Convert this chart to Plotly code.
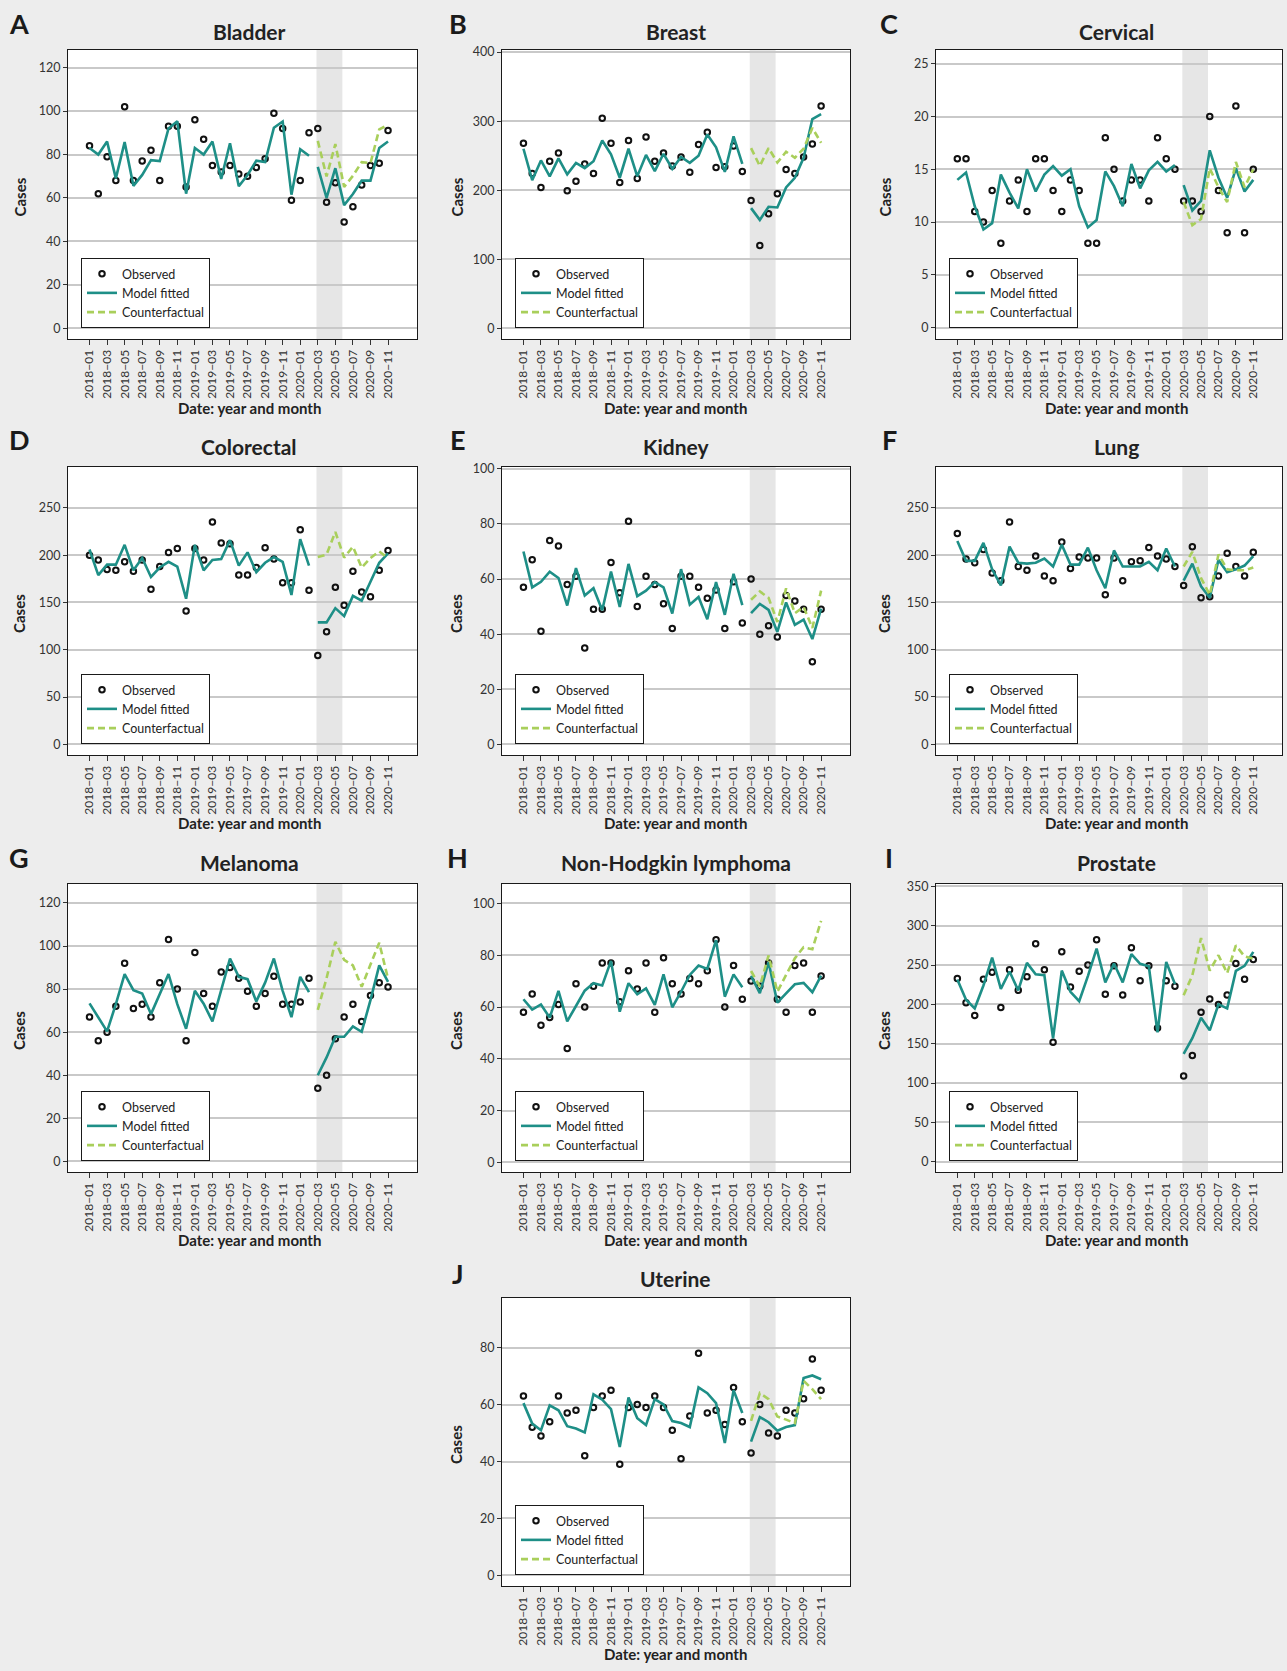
import plotly.graph_objects as go

# ---------------- data ----------------
tick_labels = ["2018\u221201", "2018\u221203", "2018\u221205", "2018\u221207", "2018\u221209", "2018\u221211",
               "2019\u221201", "2019\u221203", "2019\u221205", "2019\u221207", "2019\u221209", "2019\u221211",
               "2020\u221201", "2020\u221203", "2020\u221205", "2020\u221207", "2020\u221209", "2020\u221211"]
n_months = 35          # 2018-01 .. 2020-11
n_pre = 26             # 2018-01 .. 2020-02

bladder_obs = [84, 62, 79, 68, 102, 68, 77, 82, 68, 93, 93, 65, 96, 87, 75, 72, 75, 71, 70, 74, 78, 99, 92, 59, 68, 90,
               92, 58, 67, 49, 56, 66, 75, 76, 91]
bladder_fit = [83, 80, 86, 69, 85.7, 65.6, 70.6, 77.4, 77, 92, 95.3, 62, 83, 80, 86, 68.8, 85.2, 65.4, 70.6, 77.2, 76.5,
               92.3, 95.2, 61.5, 82.4, 79.4,
               74.3, 60, 73.7, 56.7, 61.8, 68, 68, 83, 86]
bladder_cf = [86.3, 69.9, 84.8, 65.1, 70.2, 76.5, 76, 91.6, 93.6]

breast_obs = [268, 224, 204, 242, 254, 199, 213, 238, 224, 304, 268, 211, 272, 217, 277, 242, 254, 235, 248, 226, 266,
              284, 233, 234, 264, 227, 185, 120, 166, 195, 230, 224, 248, 267, 322]
breast_fit = [260, 214.5, 243, 220, 246, 223, 239.6, 232, 242, 272, 252, 218, 260, 220, 251, 227.5, 252.7, 231, 248,
              239.6, 250, 280.7, 262, 226.5, 278, 238,
              174, 157, 176, 175, 204, 218, 247, 303, 310]
breast_cf = [261, 235, 261, 240, 255.6, 247, 260, 290, 268.6]

cervical_obs = [16, 16, 11, 10, 13, 8, 12, 14, 11, 16, 16, 13, 11, 14, 13, 8, 8, 18, 15, 12, 14, 14, 12, 18, 16, 15,
                12, 12, 11, 20, 13, 9, 21, 9, 15]
cervical_fit = [14, 14.7, 11.5, 9.3, 9.9, 14.5, 12.8, 11.3, 15, 12.9, 14.5, 15.3, 14.4, 15, 11.5, 9.5, 10.2, 14.8, 13.4,
                11.5, 15.5, 13.2, 14.9, 15.7, 14.8, 15.4,
                13.5, 11.1, 12, 16.8, 14.2, 12.3, 15.1, 12.9, 14]
cervical_cf = [11.9, 9.7, 10.3, 15.1, 13.3, 11.9, 15.7, 13.3, 15]

colorectal_obs = [200, 195, 185, 184, 193, 183, 195, 164, 188, 203, 207, 141, 207, 195, 235, 213, 212, 179, 179, 187,
                  208, 196, 171, 171, 227, 163, 94, 119, 166, 147, 183, 161, 156, 184, 205]
colorectal_fit = [206, 179, 190, 190, 211, 184, 197, 177, 187, 193, 188, 154, 211, 184, 195, 196, 216, 189, 203, 182,
                  192, 198, 193, 158, 217, 189,
                  129, 129, 144, 135.6, 157, 152, 172, 192, 202]
colorectal_cf = [198, 200.7, 224.6, 197.5, 209, 187, 197, 204, 197]

kidney_obs = [57, 67, 41, 74, 72, 58, 61, 35, 49, 49, 66, 55, 81, 50, 61, 58, 51, 42, 61, 61, 57, 53, 56, 42, 59, 44,
              60, 40, 43, 39, 54, 52, 49, 30, 49]
kidney_fit = [70, 57, 59, 62.7, 60.4, 50.4, 64, 54, 56.7, 48.7, 62.7, 49.9, 65.5, 53.8, 55.8, 58.9, 57, 47.5, 63.6, 50.7,
              53.5, 45.4, 58.9, 47, 61.9, 50.5,
              47.6, 51, 48.8, 40.8, 51.5, 43.4, 45.3, 38.2, 49.3]
kidney_cf = [52.5, 55.5, 53.2, 44.4, 56.6, 47.6, 49.9, 42.2, 55.8]

lung_obs = [223, 196, 192, 206, 181, 173, 235, 188, 184, 199, 178, 173, 214, 186, 198, 197, 197, 158, 197, 173, 193,
            194, 208, 199, 196, 188, 168, 209, 155, 156, 178, 202, 188, 178, 203]
lung_fit = [215, 194, 194, 213, 185, 168, 209, 192, 191, 192, 196.5, 188, 211, 190, 190, 208, 184, 165, 205, 188, 188,
            188, 193, 184, 207, 188,
            173, 191, 167, 155, 195, 182, 185, 189, 199]
lung_cf = [188, 203.5, 175.7, 158, 200.7, 185, 184, 184, 187]

melanoma_obs = [67, 56, 60, 72, 92, 71, 73, 67, 83, 103, 80, 56, 97, 78, 72, 88, 90, 85, 79, 72, 78, 86, 73, 73, 74, 85,
                34, 40, 57, 67, 73, 65, 77, 83, 81]
melanoma_fit = [73.4, 67.2, 60.4, 73, 87, 79.5, 78, 68.4, 78, 87, 73, 61.6, 79.2, 73.2, 65, 79.8, 94.2, 85.7, 84.6, 74.3,
                83, 94.2, 79.2, 67, 85.7, 78.6,
                40, 48.3, 57.9, 57.9, 62.7, 60.2, 74.9, 91, 83.4]
melanoma_cf = [70.4, 85.1, 102, 93.6, 91, 81.1, 91.4, 101.5, 84.8]

nhl_obs = [58, 65, 53, 56, 61, 44, 69, 60, 68, 77, 77, 62, 74, 67, 77, 58, 79, 69, 65, 71, 69, 74, 86, 60, 76, 63,
           70, 68, 77, 63, 58, 76, 77, 58, 72]
nhl_fit = [63, 59, 61, 55.9, 66.2, 54.5, 60.4, 66.3, 69.2, 68.3, 77.8, 58.2, 69.2, 64.9, 67.2, 60.8, 72.6, 59.9, 65.9,
           72.4, 76, 74.7, 85.8, 64, 72.6, 67.6,
           72, 65.4, 77.3, 61.7, 65.3, 68.8, 69.3, 65.7, 72.1]
nhl_cf = [73.9, 68, 79.9, 65.9, 72.4, 78.8, 83.1, 82.3, 93.3]

prostate_obs = [233, 202, 186, 232, 241, 196, 244, 218, 235, 277, 244, 152, 267, 222, 242, 250, 282, 213, 249, 212, 272,
                230, 249, 170, 230, 223, 109, 135, 190, 207, 200, 212, 252, 232, 257]
prostate_fit = [231.6, 206, 195, 224, 259.5, 219.8, 241.8, 217.7, 252.7, 238.4, 237, 156.8, 243, 216, 204, 236, 271, 228,
                252, 228, 264, 251.5, 248.5, 164.4, 254, 226,
                137, 157, 183, 167, 200, 195, 242.6, 249, 266.7]
prostate_cf = [211.7, 237, 284.4, 243, 262.5, 239.6, 275, 261, 258]

uterine_obs = [63, 52, 49, 54, 63, 57, 58, 42, 59, 63, 65, 39, 59, 60, 59, 63, 59, 51, 41, 56, 78, 57, 58, 53, 66, 54,
               43, 60, 50, 49, 58, 57, 62, 76, 65]
uterine_fit = [60.5, 53.3, 51, 59.7, 58, 52.4, 51.6, 50.2, 63.6, 61.7, 58.4, 45.1, 62.5, 55.2, 52.8, 61.9, 60, 54.2, 53.5,
               52.1, 66, 64, 60.5, 46.5, 65, 57,
               47, 55.6, 53.8, 50.8, 52.1, 52.8, 69.3, 70.2, 68.9]
uterine_cf = [54.3, 64, 61.9, 55.8, 54.7, 53.5, 68.3, 65.4, 61.9]

# ---------------- layout constants ----------------
W, H = 1287, 1671
FONT = "Lato, 'Source Sans Pro', 'Noto Sans', sans-serif"
BG = "#ededed"
TEAL = "#1e8f87"
LIME = "#a9cf5b"

COLS = [(68, 417), (502, 850), (936, 1282)]
ROWS = [(50, 339), (467, 755), (884, 1172), (1298, 1586)]
TITLE_X = [249, 675.5, 1116]
TITLE_Y = [32, 446, 862, 1278.5]
XTITLE_Y = [408, 822.5, 1240, 1654]
CASES_X = [19, 456, 884]
LETTER_X = [19, 458, 889]
LETTER_Y = [23, 440, 857, 1273]

panels = [
    ("A", "Bladder", bladder_obs, bladder_fit, bladder_cf, (-4.9, 128.1), 20, 0, 0),
    ("B", "Breast", breast_obs, breast_fit, breast_cf, (-15.5, 403), 100, 0, 1),
    ("C", "Cervical", cervical_obs, cervical_fit, cervical_cf, (-1.07, 26.3), 5, 0, 2),
    ("D", "Colorectal", colorectal_obs, colorectal_fit, colorectal_cf, (-11.3, 293.3), 50, 1, 0),
    ("E", "Kidney", kidney_obs, kidney_fit, kidney_cf, (-3.9, 100.7), 20, 1, 1),
    ("F", "Lung", lung_obs, lung_fit, lung_cf, (-11.5, 293.3), 50, 1, 2),
    ("G", "Melanoma", melanoma_obs, melanoma_fit, melanoma_cf, (-4.9, 128.8), 20, 2, 0),
    ("H", "Non-Hodgkin lymphoma", nhl_obs, nhl_fit, nhl_cf, (-3.7, 107.5), 20, 2, 1),
    ("I", "Prostate", prostate_obs, prostate_fit, prostate_cf, (-13, 353), 50, 2, 2),
    ("J", "Uterine", uterine_obs, uterine_fit, uterine_cf, (-3.7, 97.4), 20, 3, 1),
]


def px_x(px):
    return px / W


def px_y(py):
    return 1 - py / H


fig = go.Figure()
annotations = []
shapes = []
layout = dict(
    width=W, height=H, autosize=False,
    margin=dict(l=0, r=0, t=0, b=0, pad=0, autoexpand=False),
    paper_bgcolor=BG, plot_bgcolor="white",
    font=dict(family=FONT, color="#222"),
    showlegend=True,
)

months = list(range(n_months))
tick_pos = months[::2]

for k, (letter, title, obs, fit, cf, yr, dt, r, c) in enumerate(panels):
    idx = k + 1
    xa = "x" if idx == 1 else f"x{idx}"
    ya = "y" if idx == 1 else f"y{idx}"
    lg = "legend" if idx == 1 else f"legend{idx}"
    x0p, x1p = COLS[c]
    y0p, y1p = ROWS[r]

    fit_x = months[:n_pre] + [None] + months[n_pre:]
    fit_y = fit[:n_pre] + [None] + fit[n_pre:]

    fig.add_trace(go.Scatter(
        x=months, y=obs, mode="markers", name="Observed",
        marker=dict(symbol="circle-open", size=5.5, color="#111", line=dict(width=2, color="#111")),
        xaxis=xa, yaxis=ya, legend=lg, showlegend=True))
    fig.add_trace(go.Scatter(
        x=fit_x, y=fit_y, mode="lines", name="Model fitted", connectgaps=False,
        line=dict(color=TEAL, width=2.6),
        xaxis=xa, yaxis=ya, legend=lg, showlegend=True))
    fig.add_trace(go.Scatter(
        x=months[n_pre:], y=cf, mode="lines", name="Counterfactual",
        line=dict(color=LIME, width=2.6, dash="7px,4px"),
        xaxis=xa, yaxis=ya, legend=lg, showlegend=True))

    axkey_x = "xaxis" if idx == 1 else f"xaxis{idx}"
    axkey_y = "yaxis" if idx == 1 else f"yaxis{idx}"
    layout[axkey_x] = dict(
        domain=[px_x(x0p), px_x(x1p)], anchor=ya, range=[-2.45, 37.3], automargin=False,
        tickmode="array", tickvals=tick_pos, ticktext=tick_labels, tickangle=-90,
        ticks="outside", ticklen=5, tickwidth=1, tickcolor="#333",
        tickfont=dict(size=12, color="#333", family=FONT),
        showgrid=False, zeroline=False,
        showline=True, linecolor="#1a1a1a", linewidth=1.2, mirror=True,
    )
    yticks = [v for v in range(0, int(yr[1]) + 1, dt)]
    layout[axkey_y] = dict(
        domain=[px_y(y1p), px_y(y0p)], anchor=xa, range=list(yr), automargin=False,
        tickmode="array", tickvals=yticks,
        ticks="outside", ticklen=4, tickwidth=1, tickcolor="#333",
        tickfont=dict(size=12.5, color="#333", family=FONT),
        showgrid=True, gridcolor="#c9c9c9", gridwidth=1.5, zeroline=False,
        showline=True, linecolor="#1a1a1a", linewidth=1.2, mirror=True,
    )
    layout[lg] = dict(
        x=px_x(x0p + 13), y=px_y(y1p - 11), xanchor="left", yanchor="bottom",
        bgcolor="white", bordercolor="#1a1a1a", borderwidth=1,
        font=dict(size=12.5, color="#222", family=FONT),
        tracegroupgap=0, itemwidth=30,
    )

    # lockdown shading
    shapes.append(dict(type="rect", xref=xa, yref=f"{ya} domain", x0=25.85, x1=28.8, y0=0, y1=1,
                       fillcolor="#e6e6e6", line=dict(width=0), layer="below"))

    # texts
    annotations.append(dict(text=f"<b>{title}</b>", x=px_x(TITLE_X[c]), y=px_y(TITLE_Y[r]), xref="paper", yref="paper",
                            showarrow=False, xanchor="center", yanchor="middle",
                            font=dict(size=21, color="#222", family=FONT)))
    annotations.append(dict(text=f"<b>{letter}</b>", x=px_x(LETTER_X[c]), y=px_y(LETTER_Y[r]), xref="paper", yref="paper",
                            showarrow=False, xanchor="center", yanchor="middle",
                            font=dict(size=27, color="#1a1a1a", family=FONT)))
    annotations.append(dict(text="<b>Date: year and month</b>", x=px_x(TITLE_X[c]), y=px_y(XTITLE_Y[r]),
                            xref="paper", yref="paper", showarrow=False, xanchor="center", yanchor="middle",
                            font=dict(size=15, color="#222", family=FONT)))
    annotations.append(dict(text="<b>Cases</b>", x=px_x(CASES_X[c]), y=px_y((y0p + y1p) / 2 + 3),
                            xref="paper", yref="paper", showarrow=False, xanchor="center", yanchor="middle",
                            textangle=-90, font=dict(size=15, color="#222", family=FONT)))

layout["annotations"] = annotations
layout["shapes"] = shapes
fig.update_layout(**layout)
fig.write_html("out.html",
               config={"displayModeBar": False},
               post_script="document.body.style.margin='0';document.body.style.overflow='hidden';"
                           "document.body.style.background='" + BG + "';")
